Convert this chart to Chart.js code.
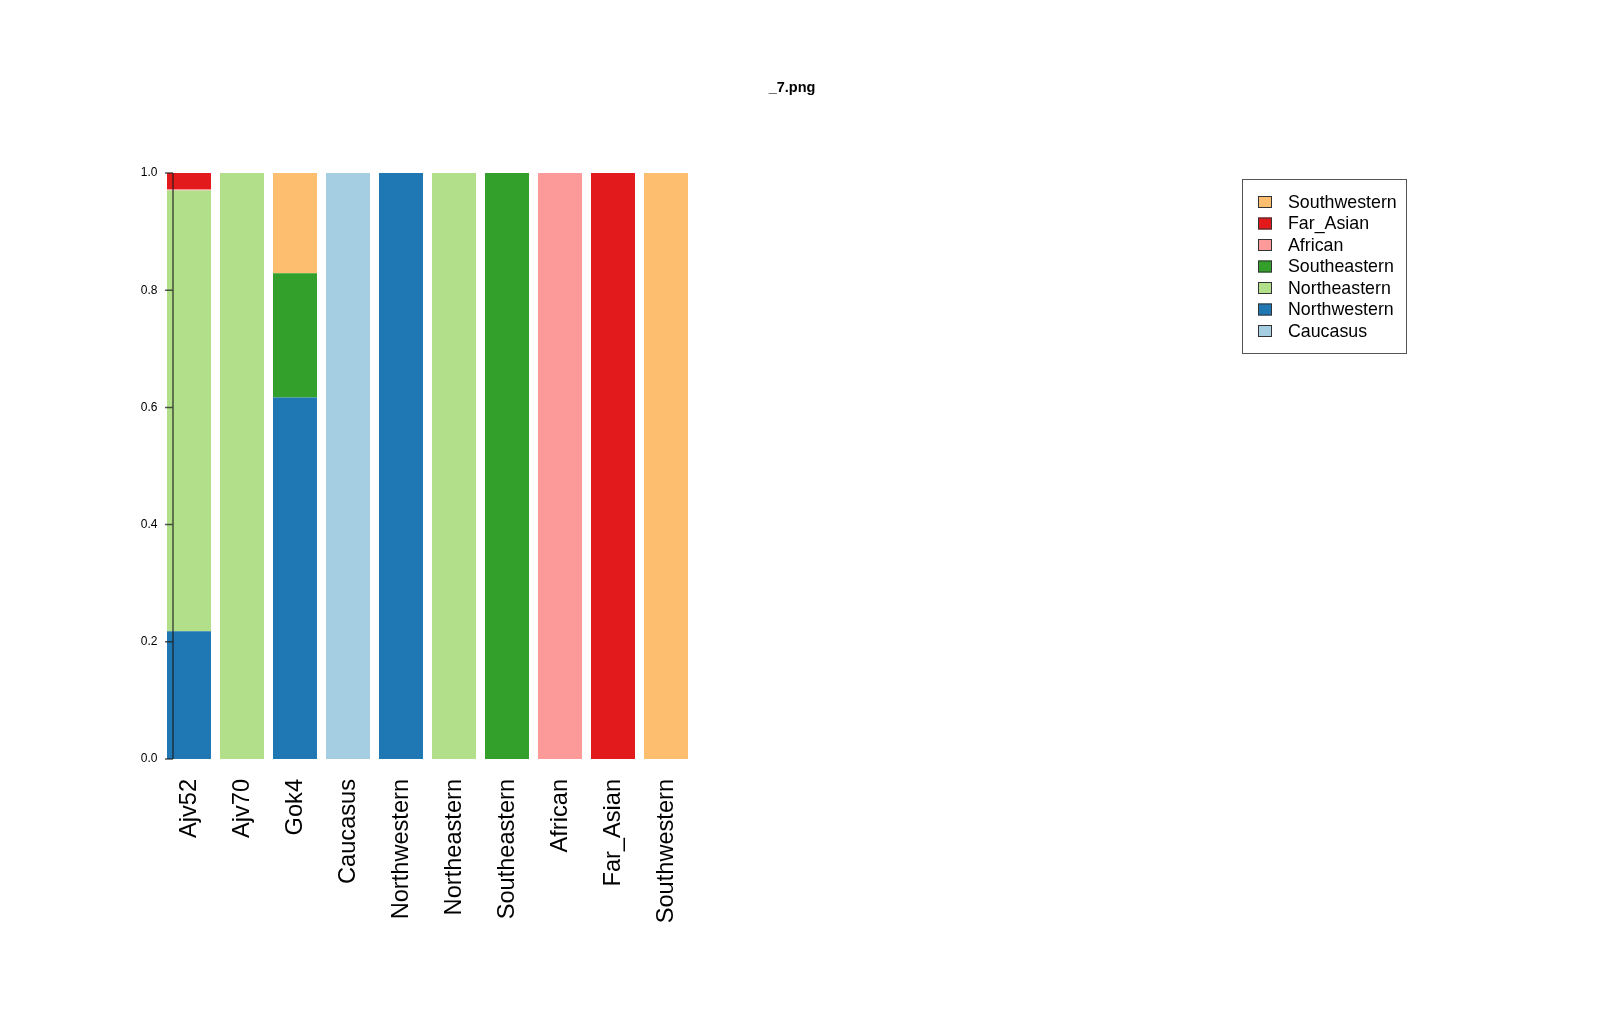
<!DOCTYPE html>
<html>
<head>
<meta charset="utf-8">
<script src="https://cdn.jsdelivr.net/npm/chart.js@4"></script>
<style>
html,body{margin:0;padding:0;background:#fff;}
#c{display:block;}
</style>
</head>
<body>
<canvas id="c" width="1600" height="1024"></canvas>
<script>
const titleText = '_7.png';
const categories = ['Ajv52','Ajv70','Gok4','Caucasus','Northwestern','Northeastern','Southeastern','African','Far_Asian','Southwestern'];
// stacking order bottom -> top
const caucasus     = [0,     0, 0,     1, 0, 0, 0, 0, 0, 0];
const northwestern = [0.218, 0, 0.617, 0, 1, 0, 0, 0, 0, 0];
const northeastern = [0.752, 1, 0,     0, 0, 1, 0, 0, 0, 0];
const southeastern = [0,     0, 0.212, 0, 0, 0, 1, 0, 0, 0];
const african      = [0.002, 0, 0,     0, 0, 0, 0, 1, 0, 0];
const farAsian     = [0.028, 0, 0,     0, 0, 0, 0, 0, 1, 0];
const southwestern = [0,     0, 0.171, 0, 0, 0, 0, 0, 0, 1];
const yTicks = [0, 0.2, 0.4, 0.6, 0.8, 1.0];

const seriesNames = ['Caucasus','Northwestern','Northeastern','Southeastern','African','Far_Asian','Southwestern'];
const seriesData = [caucasus, northwestern, northeastern, southeastern, african, farAsian, southwestern];
const seriesColors = ['#A6CEE3','#1F78B4','#B2DF8A','#33A02C','#FB9A99','#E31A1C','#FDBF6F'];

const FONT = '"Liberation Sans", Arial, Helvetica, sans-serif';

const customDraw = {
  id: 'customDraw',
  afterDatasetsDraw(chart) {
    const ctx = chart.ctx;
    const y = chart.scales.y;
    const area = chart.chartArea;
    const ax = area.left + 10.5;
    ctx.save();
    ctx.strokeStyle = 'rgba(30,30,30,0.75)';
    ctx.lineWidth = 1.5;
    ctx.beginPath();
    ctx.moveTo(ax, y.getPixelForValue(0));
    ctx.lineTo(ax, y.getPixelForValue(1));
    yTicks.forEach(v => {
      const py = y.getPixelForValue(v);
      ctx.moveTo(ax - 8, py);
      ctx.lineTo(ax, py);
    });
    ctx.stroke();
    ctx.restore();
  },
  afterDraw(chart) {
    const ctx = chart.ctx;
    ctx.save();
    // title
    ctx.fillStyle = '#000';
    ctx.font = 'bold 14.5px ' + FONT;
    ctx.textAlign = 'center';
    ctx.textBaseline = 'middle';
    ctx.fillText(titleText, 792, 88);
    // legend
    const bx = 1242.5, by = 179.5, bw = 164, bh = 174;
    ctx.strokeStyle = '#555';
    ctx.lineWidth = 1;
    ctx.strokeRect(bx, by, bw, bh);
    const ds = chart.data.datasets.slice().reverse();
    ctx.font = '17.8px ' + FONT;
    ctx.textAlign = 'left';
    ctx.textBaseline = 'middle';
    ds.forEach((d, i) => {
      const cy = 202 + i * 21.5;
      ctx.fillStyle = d.backgroundColor;
      ctx.fillRect(1258, cy - 6, 14, 12);
      ctx.strokeStyle = '#333';
      ctx.strokeRect(1258.5, cy - 5.5, 13, 11);
      ctx.fillStyle = '#000';
      ctx.fillText(d.label, 1288, cy + 1);
    });
    ctx.restore();
  }
};

new Chart(document.getElementById('c'), {
  type: 'bar',
  data: {
    labels: categories,
    datasets: seriesNames.map((n, i) => ({
      label: n,
      data: seriesData[i],
      backgroundColor: seriesColors[i],
      borderWidth: 0,
      categoryPercentage: 1,
      barPercentage: 0.83
    }))
  },
  options: {
    responsive: false,
    devicePixelRatio: 1,
    animation: false,
    layout: { padding: { top: 173, right: 907.5, left: 0, bottom: 0 } },
    plugins: { legend: { display: false }, title: { display: false }, tooltip: { enabled: false } },
    scales: {
      x: {
        stacked: true,
        grid: { display: false, drawTicks: false },
        border: { display: false },
        ticks: {
          autoSkip: false, minRotation: 90, maxRotation: 90, padding: 20,
          color: '#000', font: { family: FONT, size: 23.6 }
        },
        afterFit(s) { s.height = 265; }
      },
      y: {
        stacked: true,
        min: 0, max: 1,
        grid: { display: false, drawTicks: false },
        border: { display: false },
        afterBuildTicks(s) { s.ticks = yTicks.map(v => ({ value: v })); },
        ticks: {
          padding: 5, color: '#000', font: { family: FONT, size: 12 },
          callback: v => Number(v).toFixed(1)
        },
        afterFit(s) { s.width = 162.5; }
      }
    }
  },
  plugins: [customDraw]
});
</script>
</body>
</html>
